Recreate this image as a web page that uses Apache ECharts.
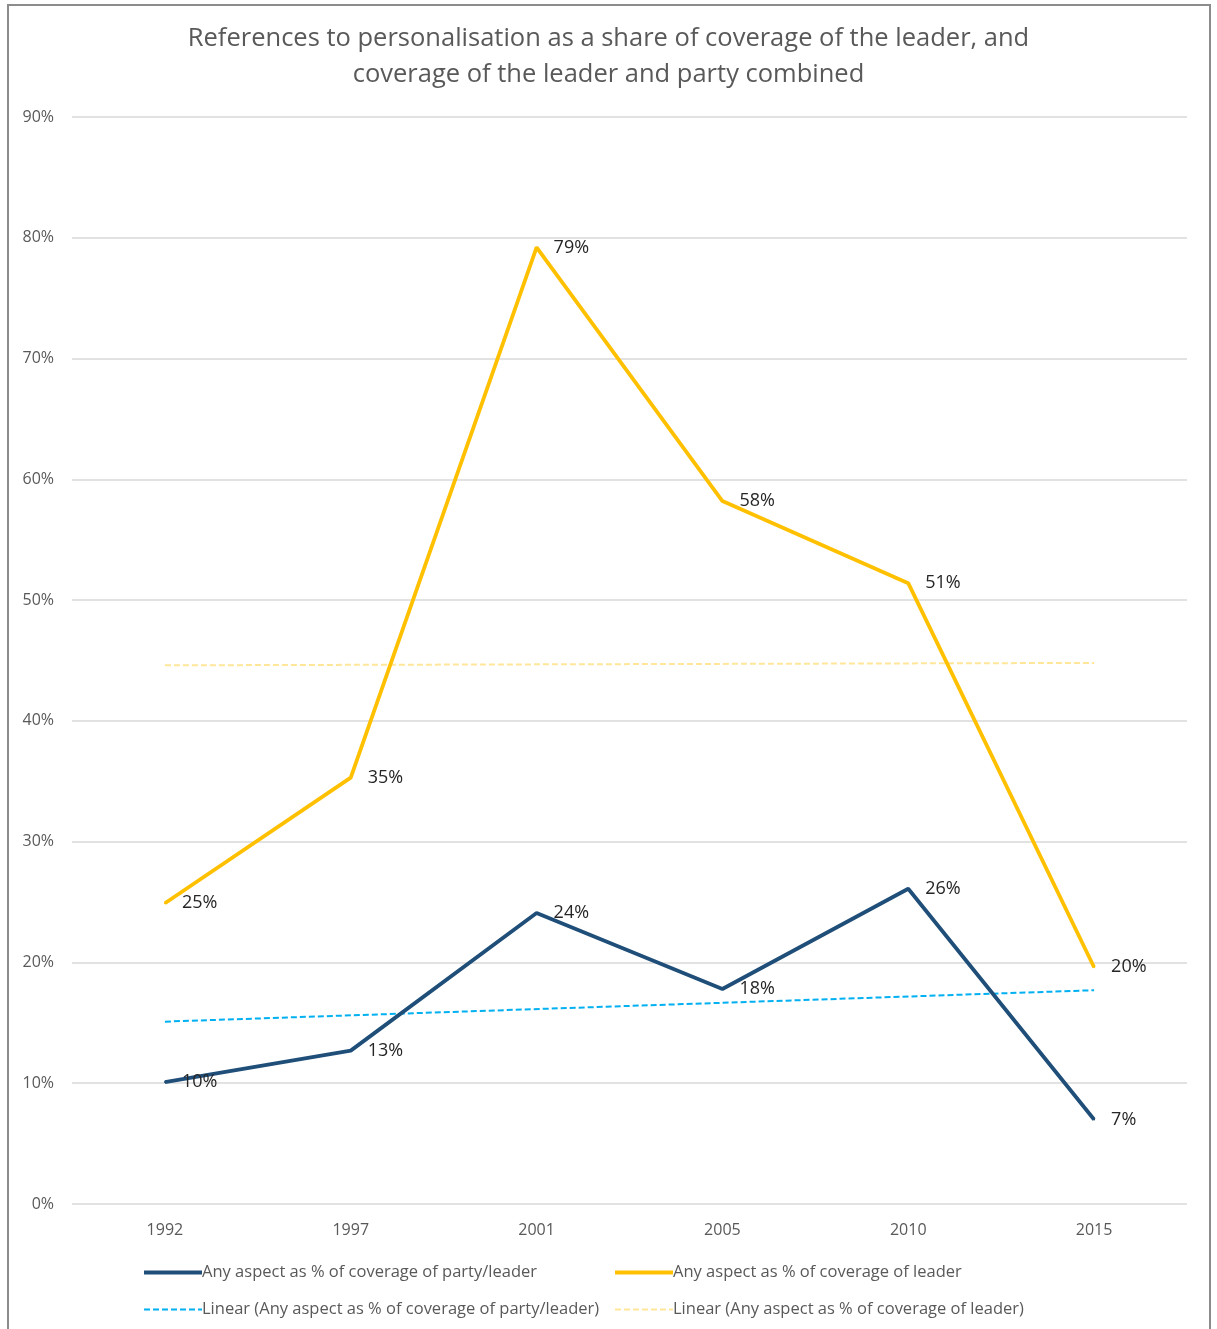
<!DOCTYPE html>
<html>
<head>
<meta charset="utf-8">
<title>Personalisation coverage</title>
<script src="https://cdn.jsdelivr.net/npm/echarts@6/dist/echarts.min.js"></script>
<style>
  html, body { margin: 0; padding: 0; background: #fff; }
  #chart { width: 1217px; height: 1329px; }
</style>
</head>
<body>
<div id="chart"></div>
<script>
// data
const years = ['1992', '1997', '2001', '2005', '2010', '2015']
const partyLeader = [10.1, 12.7, 24.1, 17.8, 26.1, 7.0]
const leaderOnly = [24.9, 35.3, 79.2, 58.2, 51.4, 19.6]
// trendlines: only the two ends, the line is drawn straight between them
const partyLeaderTrend = [15.1, null, null, null, null, 17.7]
const leaderOnlyTrend = [44.6, null, null, null, null, 44.8]
const yTicks = [0, 10, 20, 30, 40, 50, 60, 70, 80, 90]

const names = {
  party: 'Any aspect as % of coverage of party/leader',
  leader: 'Any aspect as % of coverage of leader',
  partyTrend: 'Linear (Any aspect as % of coverage of party/leader)',
  leaderTrend: 'Linear (Any aspect as % of coverage of leader)'
}

const font = '"Open Sans", "Liberation Sans", sans-serif'
const chart = echarts.init(document.getElementById('chart'))

const dataLabel = {
  show: true,
  position: 'right',
  distance: 16,
  color: '#262626',
  fontSize: 18,
  fontFamily: font,
  formatter: p => Math.round(p.value) + '%'
}

const legendBase = {
  orient: 'vertical',
  top: 1259,
  itemGap: 20,
  itemWidth: 58,
  itemHeight: 12,
  itemStyle: { opacity: 0 },
  textStyle: { color: '#595959', fontSize: 16.5, fontFamily: font, padding: [0, 0, 0, -5] }
}

// legend entries, main lines drawn thicker like in the reference
const legendItem = (name, thick) => ({ name, lineStyle: { width: thick ? 4 : 2 } })

chart.setOption({
  animation: false,
  title: {
    text: 'References to personalisation as a share of coverage of the leader, and\ncoverage of the leader and party combined',
    left: 'center',
    top: 16,
    textStyle: {
      color: '#595959',
      fontSize: 25.5,
      fontWeight: 'normal',
      fontFamily: font,
      lineHeight: 36
    }
  },
  graphic: [{
    type: 'rect',
    shape: { x: 8, y: 5, width: 1202, height: 1345 },
    style: { fill: 'none', stroke: '#8c8c8c', lineWidth: 2 },
    silent: true
  }],
  legend: [
    Object.assign({ left: 137, data: [legendItem(names.party, true), legendItem(names.partyTrend)] }, legendBase),
    Object.assign({ left: 608, data: [legendItem(names.leader, true), legendItem(names.leaderTrend)] }, legendBase)
  ],
  grid: {
    left: 72,
    right: 30,
    top: 117,
    bottom: 125
  },
  xAxis: {
    type: 'category',
    data: years,
    boundaryGap: true,
    axisLine: { show: false },
    axisTick: { show: false },
    axisLabel: { color: '#595959', fontSize: 16, fontFamily: font, margin: 18 }
  },
  yAxis: {
    type: 'value',
    min: yTicks[0],
    max: yTicks[yTicks.length - 1],
    interval: 10,
    axisLine: { show: false },
    axisTick: { show: false },
    axisLabel: {
      color: '#595959',
      fontSize: 16,
      fontFamily: font,
      margin: 18,
      formatter: v => v + '%'
    },
    splitLine: { lineStyle: { color: '#d9d9d9', width: 1.5 } }
  },
  series: [
    {
      name: names.partyTrend,
      type: 'line',
      data: partyLeaderTrend,
      connectNulls: true,
      symbol: 'none',
      z: 1,
      lineStyle: { color: '#00b0f0', width: 2, type: [6, 3] },
      itemStyle: { color: '#00b0f0' }
    },
    {
      name: names.leaderTrend,
      type: 'line',
      data: leaderOnlyTrend,
      connectNulls: true,
      symbol: 'none',
      z: 1,
      lineStyle: { color: '#ffe699', width: 2, type: [6, 3] },
      itemStyle: { color: '#ffe699' }
    },
    {
      name: names.party,
      type: 'line',
      data: partyLeader,
      symbol: 'circle',
      symbolSize: 2,
      z: 3,
      lineStyle: { color: '#1f4e79', width: 3.8 },
      itemStyle: { color: '#1f4e79' },
      label: dataLabel
    },
    {
      name: names.leader,
      type: 'line',
      data: leaderOnly,
      symbol: 'circle',
      symbolSize: 2,
      z: 3,
      lineStyle: { color: '#ffc000', width: 3.8 },
      itemStyle: { color: '#ffc000' },
      label: dataLabel
    }
  ]
})

window.addEventListener('resize', () => chart.resize())
</script>
</body>
</html>
